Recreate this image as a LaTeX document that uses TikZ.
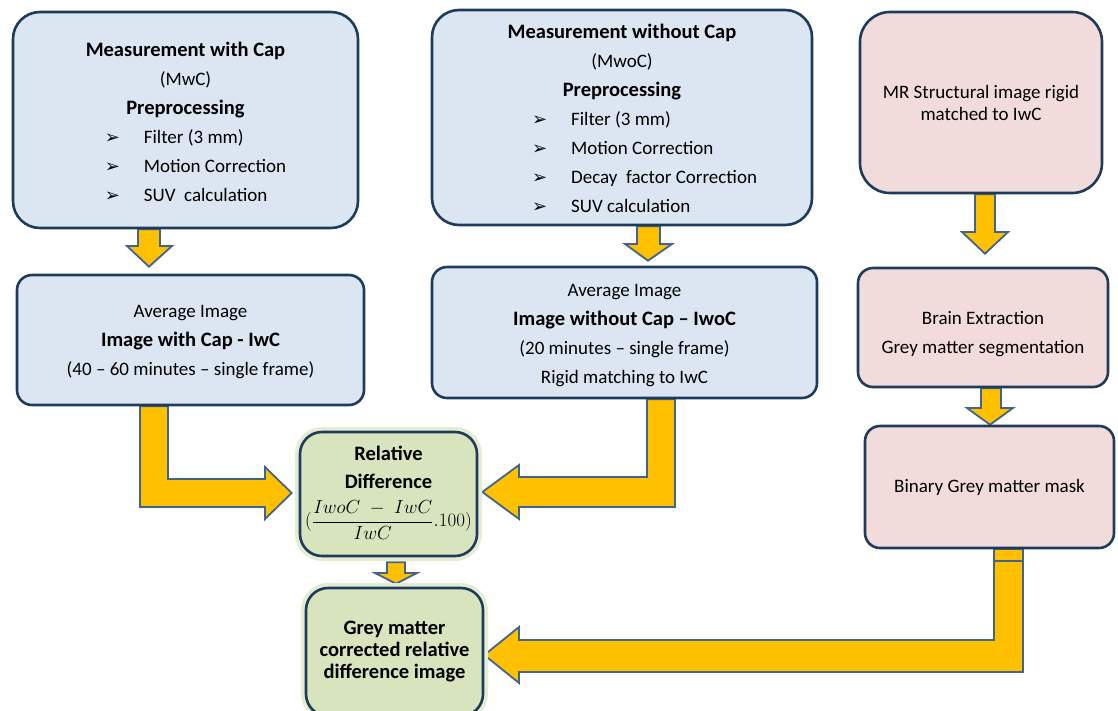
\documentclass[tikz,border=0pt]{standalone}
\usepackage{fontspec}
\setmainfont{Carlito}
\newfontfamily\dejavu{DejaVu Sans}
\usepackage{graphicx}
\usepackage{xcolor}
\usepackage{tikz}
\usetikzlibrary{calc,backgrounds}
\definecolor{boxblue}{HTML}{DCE6F2}
\definecolor{boxpink}{HTML}{F2DCDB}
\definecolor{boxgreen}{HTML}{D7E4BD}
\definecolor{glowgreen}{HTML}{E4ECD2}
\definecolor{navyline}{HTML}{1F3B5C}
\definecolor{flowyellow}{HTML}{FFC000}
\definecolor{flowblue}{HTML}{41648F}
\newcommand{\listtip}{{\dejavu\fontsize{18}{18}\selectfont ➢}}
\newcommand{\hd}[1]{{\fontsize{20.5}{29}\selectfont\bfseries #1}}

\begin{document}
\begin{tikzpicture}[
    x=1pt, y=-1pt,
    every node/.style={font=\fontsize{19}{29}\selectfont, align=center, inner sep=0pt},
    box/.style={draw=navyline, line width=2.6pt, rounded corners=#1},
    box/.default=15pt,
    bluebox/.style={box=#1, fill=boxblue},
    bluebox/.default=15pt,
    pinkbox/.style={box=#1, fill=boxpink},
    pinkbox/.default=15pt,
    greenbox/.style={box=22pt, fill=boxgreen, font=\fontsize{20.5}{22}\selectfont\bfseries,
                     preaction={draw=glowgreen, line width=10pt}},
    barrow/.style={fill=flowyellow, draw=flowblue, line width=1.8pt, line join=miter}
  ]
  \useasboundingbox (0,0) rectangle (1118,710);

  % ---- PET : measurement with cap ---------------------------------------
  \node[bluebox=27pt, minimum width=345pt, minimum height=216pt] (mwc) at (185.5,120)
    {\rule{0pt}{26pt}\hd{Measurement with Cap}\\(MwC)\\\hd{Preprocessing}\\
     \hspace*{20pt}\begin{tabular}[t]{@{}l@{\hspace{24pt}}l@{}}
       \listtip & Filter (3 mm)\\
       \listtip & Motion Correction\\
       \listtip & SUV\ \ calculation
     \end{tabular}};
  \node[bluebox, minimum width=347pt, minimum height=130pt] (avgc) at (190.5,340)
    {\rule{0pt}{16pt}Average Image\\\hd{Image with Cap - IwC}\\(40 -- 60 minutes -- single frame)};

  % ---- PET : measurement without cap ------------------------------------
  \node[bluebox=27pt, minimum width=380pt, minimum height=215pt] (mwoc) at (622,117.5)
    {\rule{0pt}{24pt}\hd{Measurement without Cap}\\(MwoC)\\\hd{Preprocessing}\\
     \hspace*{45pt}\begin{tabular}[t]{@{}l@{\hspace{24pt}}l@{}}
       \listtip & Filter (3 mm)\\
       \listtip & Motion Correction\\
       \listtip & Decay\ \ factor Correction\\
       \listtip & SUV calculation
     \end{tabular}};
  \node[bluebox, minimum width=385pt, minimum height=131pt] (avgwoc) at (624.5,332.5)
    {\rule{0pt}{18pt}Average Image\\\hd{Image without Cap -- IwoC}\\(20 minutes -- single frame)\\Rigid matching to IwC};

  % ---- MR branch ---------------------------------------------------------
  \node[pinkbox=30pt, minimum width=242pt, minimum height=181pt,
        font=\fontsize{19}{22}\selectfont] (mr) at (981,102.5)
    {MR Structural image rigid\\matched to IwC};
  \node[pinkbox, minimum width=250pt, minimum height=119pt] (brain) at (983,327.5)
    {\rule{0pt}{27pt}Brain Extraction\\Grey matter segmentation};
  \node[pinkbox, minimum width=249pt, minimum height=122pt] (mask) at (989.5,487)
    {Binary Grey matter mask};

  % ---- results -----------------------------------------------------------
  \node[greenbox, minimum width=177pt, minimum height=124pt] (rd) at (388.5,494)
    {Relative\\[6pt]Difference\\[11pt]
     {\normalfont\fontsize{16.5}{20}\selectfont\rule[-15pt]{0pt}{1pt}%
      \scalebox{1.1}{$(\displaystyle\frac{IwoC\;-\;IwC}{IwC}.100)$}}};
  \node[greenbox, minimum width=177pt, minimum height=128pt] (gm) at (394.5,652)
    {Grey matter\\corrected relative\\difference image};

  % ---- block arrows, behind the boxes ------------------------------------
  \begin{scope}[on background layer]
    % straight down
    \draw[barrow] (138,0 |- mwc.south) -- (138,246) -- ++(-11,0)
      -- ($(149,0 |- avgc.north)+(0,-7)$) -- (172,246) -- ++(-12,0)
      -- (160,0 |- mwc.south) -- cycle;
    \draw[barrow] (637,0 |- mwoc.south) -- (637,244) -- ++(-12,0)
      -- ($(648,0 |- avgwoc.north)+(0,-5)$) -- (672,244) -- ++(-12,0)
      -- (660,0 |- mwoc.south) -- cycle;
    \draw[barrow] (975,0 |- mr.south) -- (975,232) -- ++(-13,0)
      -- ($(985,0 |- brain.north)+(0,-13)$) -- (1008,232) -- ++(-13,0)
      -- (995,0 |- mr.south) -- cycle;
    \draw[barrow] (981,0 |- brain.south) -- (981,408) -- ++(-14,0)
      -- (990,0 |- mask.north) -- (1013,408) -- ++(-12,0)
      -- (1001,0 |- brain.south) -- cycle;
    \draw[barrow] ($(387,0 |- rd.south)+(0,5)$) -- (387,573) -- ++(-12,0)
      -- ($(396,0 |- gm.north)+(0,-3)$) -- (417,573) -- ++(-12,0)
      -- ($(405,0 |- rd.south)+(0,5)$) -- cycle;

    % elbows into the relative difference
    \draw[barrow] (140,0 |- avgc.south) -- (140,507) -- (265,507) -- (265,519)
      -- ($(rd.west)+(-7,-1)$) -- (265,467) -- (265,479) -- (168,479)
      -- (168,0 |- avgc.south) -- cycle;
    \draw[barrow] (675,0 |- avgwoc.south) -- (675,507) -- (519,507) -- (519,519)
      -- ($(rd.east)+(4,-2)$) -- (519,465) -- (519,477) -- (647,477)
      -- (647,0 |- avgwoc.south) -- cycle;

    % mask down to the corrected image
    \draw[barrow] (994,0 |- mask.south) rectangle (1023,561);
    \draw[barrow] (994,561) -- (994,640) -- (519,640) -- (519,627)
      -- ($(gm.east)+(0,3)$) -- (519,683) -- (519,672) -- (1023,672)
      -- (1023,561) -- cycle;
  \end{scope}

\end{tikzpicture}
\end{document}
